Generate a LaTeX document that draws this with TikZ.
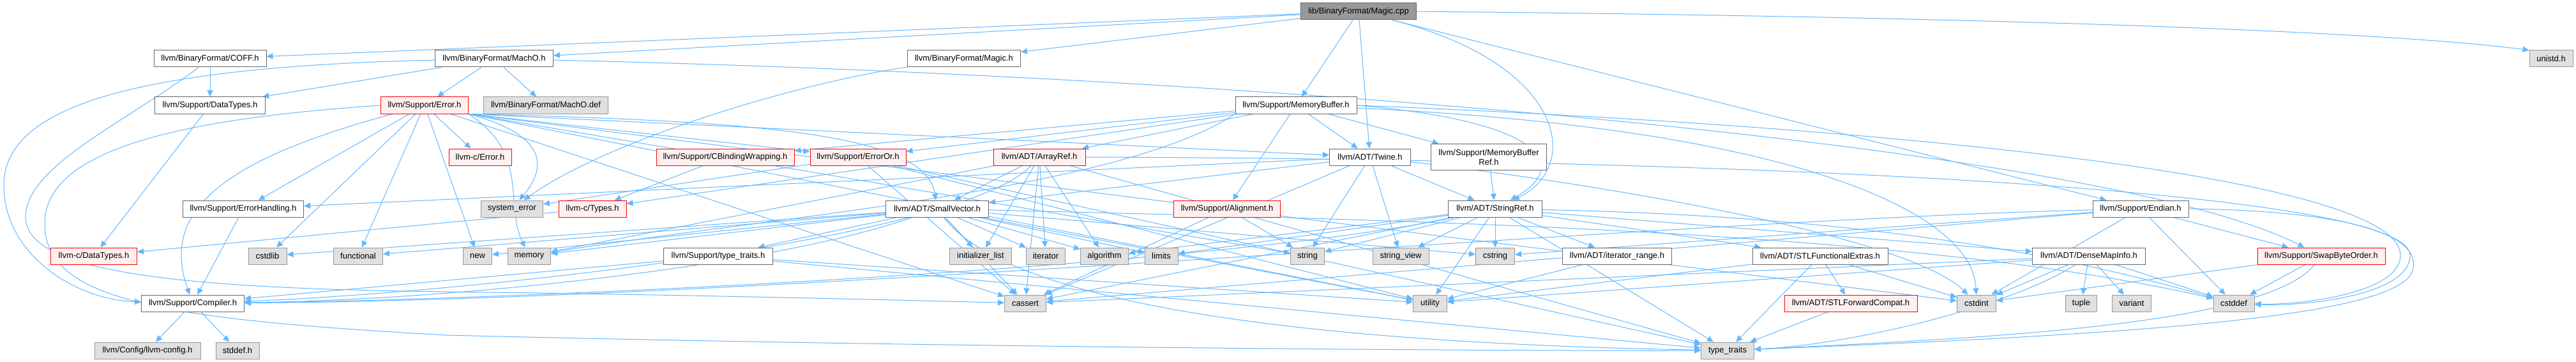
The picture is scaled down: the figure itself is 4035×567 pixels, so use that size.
\documentclass[tikz,border=0pt]{standalone}
\usepackage{fontspec}
\setmainfont{Liberation Sans}
\usetikzlibrary{arrows.meta,backgrounds}
\pgfdeclarelayer{bottom}
\pgfsetlayers{bottom,background,main}
\definecolor{edgec}{HTML}{63B8FF}
\definecolor{redfill}{HTML}{FFF0F0}
\definecolor{grayfill}{HTML}{E0E0E0}
\definecolor{grayline}{HTML}{999999}
\definecolor{darkline}{HTML}{666666}
\definecolor{rootfill}{HTML}{999999}
\begin{document}
\begin{tikzpicture}[x=1pt,y=-1pt,
  box/.style={draw, line width=1pt, inner sep=0pt, minimum height=26pt, font=\fontsize{13}{15}\selectfont, align=center},
  nb/.style={box, draw=darkline, fill=white},
  gb/.style={box, draw=grayline, fill=grayfill},
  rb/.style={box, draw=red, fill=redfill},
  rootb/.style={box, draw=darkline, fill=rootfill},
  ln/.style={draw=edgec, line width=1pt, -{Triangle[length=10pt,width=9pt]}}]
\useasboundingbox (0,0) rectangle (4035,567);
\begin{pgfonlayer}{bottom}
\fill[white] (0,0) rectangle (4035,567);
\end{pgfonlayer}
% row 0
\node[rootb, minimum width=181] (root) at (2128,18) {lib/BinaryFormat/Magic.cpp};
% row 1
\node[nb, minimum width=176] (coff) at (329,92) {llvm/BinaryFormat/COFF.h};
\node[nb, minimum width=185] (macho) at (774,92) {llvm/BinaryFormat/MachO.h};
\node[nb, minimum width=177] (magich) at (1510,92) {llvm/BinaryFormat/Magic.h};
\node[gb, minimum width=68] (unistd) at (3996,92) {unistd.h};
% row 2
\node[nb, minimum width=173] (dtypes) at (329,165) {llvm/Support/DataTypes.h};
\node[rb, minimum width=137] (error) at (665,165) {llvm/Support/Error.h};
\node[gb, minimum width=195] (machodef) at (855,165) {llvm/BinaryFormat/MachO.def};
\node[nb, minimum width=190] (membuf) at (2030,165) {llvm/Support/MemoryBuffer.h};
% row 3
\node[rb, minimum width=98] (cerror) at (752,246) {llvm-c/Error.h};
\node[rb, minimum width=216] (cbind) at (1136,246) {llvm/Support/CBindingWrapping.h};
\node[rb, minimum width=150] (erroror) at (1344,246) {llvm/Support/ErrorOr.h};
\node[rb, minimum width=144] (arrayref) at (1628,246) {llvm/ADT/ArrayRef.h};
\node[nb, minimum width=127] (twine) at (2146,246) {llvm/ADT/Twine.h};
\node[nb, minimum width=181, minimum height=41] (mbref) at (2332,246) {llvm/Support/MemoryBuffer\\Ref.h};
% row 4
\node[nb, minimum width=189] (errhand) at (381,327) {llvm/Support/ErrorHandling.h};
\node[gb, minimum width=97] (syserr) at (802,327) {system\_error};
\node[rb, minimum width=106] (ctypes) at (928,327) {llvm-c/Types.h};
\node[nb, minimum width=161] (smallvec) at (1468,327) {llvm/ADT/SmallVector.h};
\node[rb, minimum width=167] (align) at (1922,327) {llvm/Support/Alignment.h};
\node[nb, minimum width=147] (stringref) at (2342,327) {llvm/ADT/StringRef.h};
\node[nb, minimum width=150] (endian) at (3353,327) {llvm/Support/Endian.h};
% row 5
\node[rb, minimum width=135] (cdtypes) at (147,401) {llvm-c/DataTypes.h};
\node[gb, minimum width=60] (cstdlib) at (419,401) {cstdlib};
\node[gb, minimum width=77] (functional) at (561,401) {functional};
\node[gb, minimum width=45] (nnew) at (748,401) {new};
\node[gb, minimum width=67] (memory) at (829,401) {memory};
\node[nb, minimum width=171] (typetraitsh) at (1125,401) {llvm/Support/type\_traits.h};
\node[gb, minimum width=97] (initlist) at (1536,401) {initializer\_list};
\node[gb, minimum width=61] (iterator) at (1638,401) {iterator};
\node[gb, minimum width=75] (algorithm) at (1730,401) {algorithm};
\node[gb, minimum width=52] (limits) at (1819,401) {limits};
\node[gb, minimum width=53] (string) at (2048,401) {string};
\node[gb, minimum width=88] (stringview) at (2194,401) {string\_view};
\node[gb, minimum width=61] (cstring) at (2342,401) {cstring};
\node[nb, minimum width=171] (iterrange) at (2533,401) {llvm/ADT/iterator\_range.h};
\node[nb, minimum width=212] (stlfunc) at (2851,401) {llvm/ADT/STLFunctionalExtras.h};
\node[nb, minimum width=177] (densemap) at (3272,401) {llvm/ADT/DenseMapInfo.h};
\node[rb, minimum width=200] (swapbyte) at (3636,401) {llvm/Support/SwapByteOrder.h};
% row 6
\node[nb, minimum width=161] (compiler) at (302,475) {llvm/Support/Compiler.h};
\node[gb, minimum width=65] (cassert) at (1606,475) {cassert};
\node[gb, minimum width=53] (utility) at (2240,475) {utility};
\node[rb, minimum width=208] (stlfwd) at (2899,475) {llvm/ADT/STLForwardCompat.h};
\node[gb, minimum width=61] (cstdint) at (3096,475) {cstdint};
\node[gb, minimum width=49] (tuple) at (3260,475) {tuple};
\node[gb, minimum width=61] (variant) at (3339,475) {variant};
\node[gb, minimum width=64] (cstddef) at (3499,475) {cstddef};
% row 7
\node[gb, minimum width=166] (llvmconfig) at (231,549) {llvm/Config/llvm-config.h};
\node[gb, minimum width=68] (stddef) at (372,549) {stddef.h};
\node[gb, minimum width=83] (typetraits) at (2706,549) {type\_traits};

\begin{pgfonlayer}{background}
% root
\draw[ln] (root) -- (magich);
\draw[ln] (root) -- (coff);
\draw[ln] (root) -- (macho);
\draw[ln] (root) -- (membuf);
\draw[ln] (root) -- (twine);
\draw[ln] (root) .. controls (2450,100) and (2480,260) .. (stringref);
\draw[ln] (root) -- (endian);
\draw[ln] (root.east) .. controls (3000,25) and (3700,45) .. (unistd.north west);
% coff
\draw[ln] (coff) -- (dtypes);
\draw[ln] (coff) .. controls (200,190) and (40,260) .. (40,340) .. controls (40,430) and (300,452) .. (700,457) .. controls (1100,462) and (1400,470) .. (cassert);
% macho
\draw[ln] (macho) -- (dtypes);
\draw[ln] (macho) -- (error);
\draw[ln] (macho) -- (machodef);
\draw[ln] (macho) .. controls (200,105) and (6,170) .. (6,290) .. controls (6,400) and (120,470) .. (compiler);
\draw[ln] (macho) .. controls (2000,120) and (3300,230) .. (swapbyte);
% magic.h
\draw[ln] (magich) .. controls (1250,130) and (950,220) .. (syserr);
% datatypes
\draw[ln] (dtypes) -- (cdtypes);
% error
\draw[ln] (error) -- (cerror);
\draw[ln] (error.south east) -- (twine);
\draw[ln] (error) .. controls (350,250) and (250,330) .. (compiler);
\draw[ln] (error) -- (errhand);
\draw[ln] (error.south east) -- (erroror);
\draw[ln] (error.south east) .. controls (1200,190) and (1450,210) .. (smallvec);
\draw[ln] (error) -- (cassert);
\draw[ln] (error.south east) -- (cstdint);
\draw[ln] (error) -- (cstdlib);
\draw[ln] (error) -- (functional);
\draw[ln] (error.south east) .. controls (830,240) and (790,320) .. (memory);
\draw[ln] (error) -- (nnew);
\draw[ln] (error.south east) -- (string);
\draw[ln] (error.south east) .. controls (870,215) and (850,270) .. (syserr);
\draw[ln] (error.west) .. controls (300,185) and (70,230) .. (70,350) .. controls (70,470) and (250,500) .. (700,525) .. controls (1500,545) and (2400,550) .. (typetraits);
\draw[ln] (error.south east) -- (utility);
% erroror
\draw[ln] (erroror) -- (syserr);
\draw[ln] (erroror) -- (cassert);
\draw[ln] (erroror) -- (typetraits);
\draw[ln] (erroror) -- (utility);
% memorybuffer
\draw[ln] (membuf) -- (ctypes);
\draw[ln] (membuf) -- (arrayref);
\draw[ln] (membuf.east) .. controls (2420,190) and (2460,260) .. (stringref);
\draw[ln] (membuf) -- (twine);
\draw[ln] (membuf) -- (align);
\draw[ln] (membuf) -- (cbind);
\draw[ln] (membuf) -- (erroror);
\draw[ln] (membuf) -- (mbref);
\draw[ln] (membuf.east) .. controls (3000,200) and (3760,280) .. (3760,400) .. controls (3760,460) and (3600,478) .. (cstddef);
\draw[ln] (membuf) .. controls (2800,200) and (3090,330) .. (cstdint);
\draw[ln] (membuf.south west) .. controls (1750,300) and (1200,340) .. (memory);
% cbinding, types
\draw[ln] (cbind) -- (ctypes);
\draw[ln] (ctypes) -- (cdtypes);
% arrayref
\draw[ln] (arrayref) -- (smallvec);
\draw[ln] (arrayref) .. controls (1500,380) and (700,460) .. (compiler);
\draw[ln] (arrayref) -- (algorithm);
\draw[ln] (arrayref) -- (cassert);
\draw[ln] (arrayref.east) .. controls (2800,250) and (3775,300) .. (3775,400) .. controls (3775,465) and (3600,480) .. (cstddef);
\draw[ln] (arrayref) -- (initlist);
\draw[ln] (arrayref) -- (iterator);
\draw[ln] (arrayref) -- (memory);
\draw[ln] (arrayref) -- (typetraits);
% twine
\draw[ln] (twine) -- (smallvec);
\draw[ln] (twine) -- (stringref);
\draw[ln] (twine) -- (errhand);
\draw[ln] (twine) -- (cassert);
\draw[ln] (twine) .. controls (2600,300) and (3000,380) .. (cstdint);
\draw[ln] (twine) -- (string);
\draw[ln] (twine) -- (stringview);
% memorybufferref
\draw[ln] (mbref) -- (stringref);
% errorhandling
\draw[ln] (errhand) -- (compiler);
% smallvector
\draw[ln] (smallvec) .. controls (1200,420) and (700,470) .. (compiler);
\draw[ln] (smallvec) -- (typetraitsh);
\draw[ln] (smallvec) -- (algorithm);
\draw[ln] (smallvec) -- (cassert);
\draw[ln] (smallvec) .. controls (2200,345) and (3000,360) .. (cstddef);
\draw[ln] (smallvec) -- (cstdlib);
\draw[ln] (smallvec) -- (cstring);
\draw[ln] (smallvec) -- (functional);
\draw[ln] (smallvec) -- (initlist);
\draw[ln] (smallvec) -- (iterator);
\draw[ln] (smallvec) -- (limits);
\draw[ln] (smallvec) -- (memory);
\draw[ln] (smallvec) -- (nnew);
\draw[ln] (smallvec) .. controls (1600,500) and (2200,540) .. (typetraits);
\draw[ln] (smallvec) -- (utility);
% type_traits.h
\draw[ln] (typetraitsh) -- (compiler);
\draw[ln] (typetraitsh) -- (typetraits);
\draw[ln] (typetraitsh) -- (utility);
% alignment
\draw[ln] (align) -- (cassert);
\draw[ln] (align) -- (string);
% stringref
\draw[ln] (stringref) -- (densemap);
\draw[ln] (stringref) -- (stlfunc);
\draw[ln] (stringref) -- (iterrange);
\draw[ln] (stringref) .. controls (1900,420) and (800,470) .. (compiler);
\draw[ln] (stringref) -- (algorithm);
\draw[ln] (stringref) -- (cassert);
\draw[ln] (stringref) .. controls (3000,340) and (3300,420) .. (cstddef);
\draw[ln] (stringref) -- (cstring);
\draw[ln] (stringref) -- (limits);
\draw[ln] (stringref) -- (string);
\draw[ln] (stringref) -- (stringview);
\draw[ln] (stringref) -- (typetraits);
\draw[ln] (stringref) -- (utility);
% endian
\draw[ln] (endian) .. controls (2600,345) and (1200,470) .. (compiler);
\draw[ln] (endian) -- (swapbyte);
\draw[ln] (endian) -- (cassert);
\draw[ln] (endian) -- (cstddef);
\draw[ln] (endian) -- (cstdint);
\draw[ln] (endian) -- (cstring);
\draw[ln] (endian.east) .. controls (3650,330) and (3790,360) .. (3780,420) .. controls (3770,500) and (3300,525) .. (typetraits);
% swapbyteorder
\draw[ln] (swapbyte) -- (cstddef);
\draw[ln] (swapbyte) -- (cstdint);
\draw[ln] (swapbyte) .. controls (3550,510) and (3100,530) .. (typetraits);
% densemapinfo
\draw[ln] (densemap) -- (cassert);
\draw[ln] (densemap) -- (cstddef);
\draw[ln] (densemap) -- (cstdint);
\draw[ln] (densemap) -- (tuple);
\draw[ln] (densemap) .. controls (3150,480) and (2900,540) .. (typetraits);
\draw[ln] (densemap) -- (utility);
\draw[ln] (densemap) -- (variant);
% stlfunctionalextras
\draw[ln] (stlfunc) -- (stlfwd);
\draw[ln] (stlfunc) -- (cstdint);
\draw[ln] (stlfunc) -- (typetraits);
\draw[ln] (stlfunc) -- (utility);
\draw[ln] (stlfwd) -- (typetraits);
% iterator_range
\draw[ln] (iterrange) -- (utility);
% compiler
\draw[ln] (compiler) -- (llvmconfig);
\draw[ln] (compiler) -- (stddef);
\end{pgfonlayer}
\end{tikzpicture}
\end{document}
